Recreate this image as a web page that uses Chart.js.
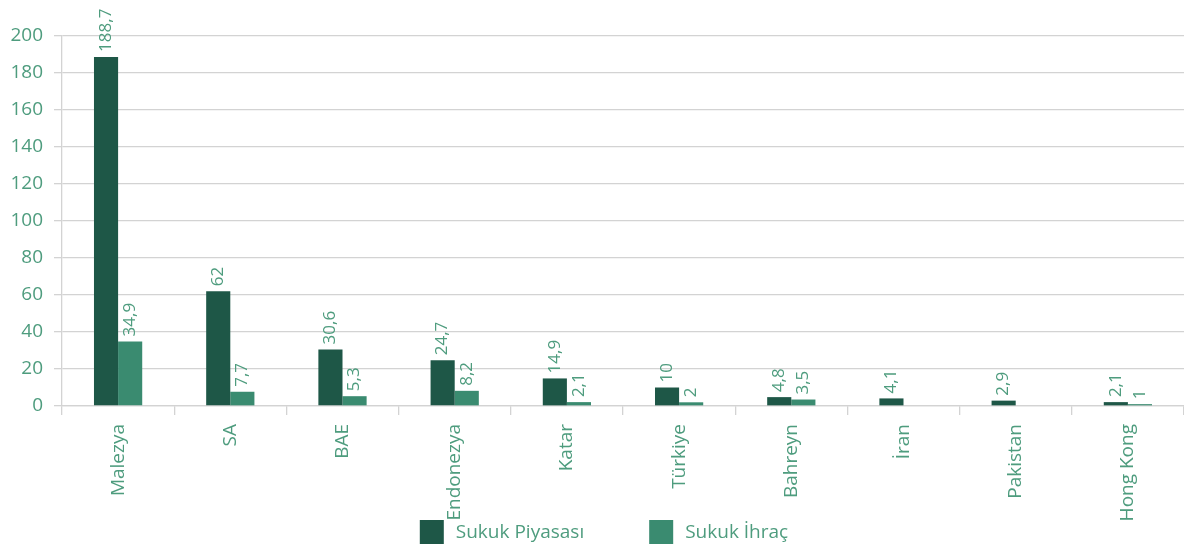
<!DOCTYPE html>
<html>
<head>
<meta charset="utf-8">
<script src="https://cdn.jsdelivr.net/npm/chart.js@4/dist/chart.umd.min.js"></script>
<style>
html,body{margin:0;padding:0;background:#fff;overflow:hidden;}
#wrap{width:1184px;height:548px;}
</style>
</head>
<body>
<div id="wrap"><canvas id="c" width="1184" height="548"></canvas></div>
<script>
const categories = ['Malezya','SA','BAE','Endonezya','Katar','Türkiye','Bahreyn','İran','Pakistan','Hong Kong'];
const seriesNames = ['Sukuk Piyasası','Sukuk İhraç'];
const piyasa = [188.7, 62, 30.6, 24.7, 14.9, 10, 4.8, 4.1, 2.9, 2.1];
const ihrac = [34.9, 7.7, 5.3, 8.2, 2.1, 2, 3.5, null, null, 1];
const yTicks = [0,20,40,60,80,100,120,140,160,180,200];

const TXT = '#4e9c7e';
const FONT = '"Open Sans", Lato, sans-serif';

const labelPlugin = {
  id: 'barLabels',
  afterDatasetsDraw(chart) {
    const ctx = chart.ctx;
    ctx.save();
    ctx.fillStyle = TXT;
    ctx.font = '17px ' + FONT;
    chart.data.datasets.forEach((ds, i) => {
      const meta = chart.getDatasetMeta(i);
      meta.data.forEach((bar, j) => {
        const v = ds.data[j];
        if (v == null) return;
        ctx.save();
        ctx.translate(bar.x, bar.y - 5);
        ctx.rotate(-Math.PI / 2);
        ctx.textAlign = 'left';
        ctx.textBaseline = 'middle';
        ctx.fillText(String(v).replace('.', ','), 0, 0);
        ctx.restore();
      });
    });
    ctx.restore();
  }
};

const legendPlugin = {
  id: 'customLegend',
  afterDraw(chart) {
    const ctx = chart.ctx;
    const box = 24, gapText = 12, gapItems = 65;
    ctx.save();
    ctx.font = '19px ' + FONT;
    const items = chart.data.datasets.map(ds => ({ text: ds.label, color: ds.backgroundColor, w: box + gapText + ctx.measureText(ds.label).width }));
    const total = items.reduce((s, it) => s + it.w, 0) + gapItems * (items.length - 1);
    let x = (chart.width - total) / 2 + 12;
    const yMid = chart.height - 16;
    items.forEach(it => {
      ctx.fillStyle = it.color;
      ctx.fillRect(x, yMid - box / 2, box, box);
      ctx.fillStyle = TXT;
      ctx.textAlign = 'left';
      ctx.textBaseline = 'middle';
      ctx.fillText(it.text, x + box + gapText, yMid + 1);
      x += it.w + gapItems;
    });
    ctx.restore();
  }
};

new Chart(document.getElementById('c'), {
  type: 'bar',
  data: {
    labels: categories,
    datasets: [
      { label: seriesNames[0], data: piyasa, backgroundColor: '#1e5747', barPercentage: 1, categoryPercentage: 0.43 },
      { label: seriesNames[1], data: ihrac, backgroundColor: '#3a8b70', barPercentage: 1, categoryPercentage: 0.43 }
    ]
  },
  options: {
    responsive: false,
    animation: false,
    layout: { padding: { top: 36, right: 0, left: 0, bottom: 0 } },
    plugins: {
      tooltip: { enabled: false },
      legend: { display: false }
    },
    scales: {
      y: {
        min: 0, max: 200,
        afterBuildTicks(scale) { scale.ticks = yTicks.map(v => ({ value: v })); },
        afterFit(scale) { scale.width = 62; },
        ticks: { color: TXT, font: { family: FONT, size: 19 }, padding: 11 },
        grid: { color: '#d3d3d3', lineWidth: 1.3, tickLength: 8 },
        border: { display: true, color: '#d3d3d3', width: 1.3 }
      },
      x: {
        afterFit(scale) { scale.height = 142; },
        ticks: { color: TXT, font: { family: FONT, size: 19 }, minRotation: 90, maxRotation: 90, padding: 9, autoSkip: false },
        grid: { drawOnChartArea: false, color: '#d3d3d3', lineWidth: 1.3, tickLength: 9, offset: true },
        border: { display: true, color: '#d3d3d3', width: 1.3 }
      }
    }
  },
  plugins: [labelPlugin, legendPlugin]
});
</script>
</body>
</html>
